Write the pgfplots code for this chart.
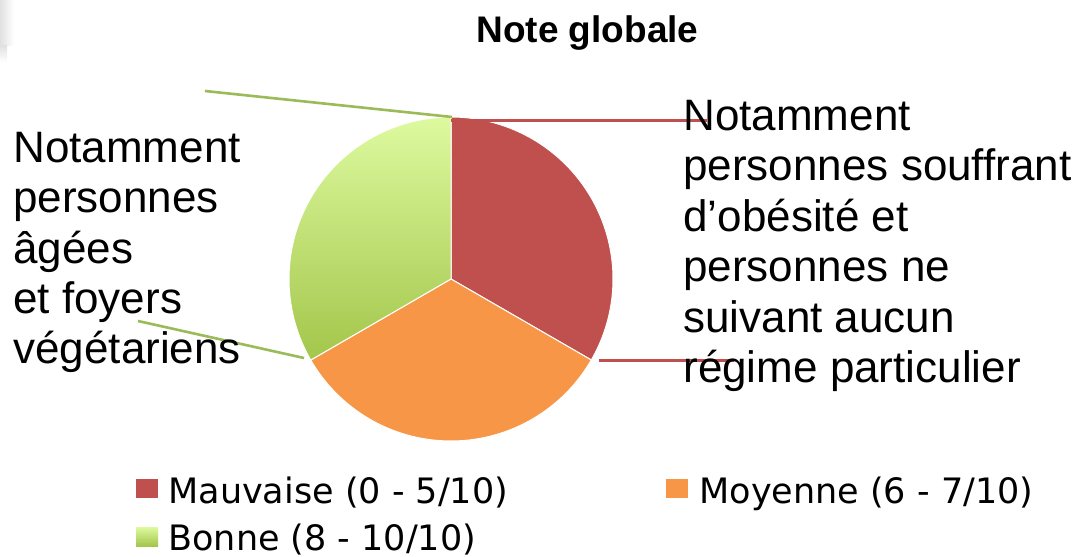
\documentclass[border=0pt]{standalone}
\usepackage{pgfplots}
\pgfplotsset{compat=1.18}
\usepackage{pgfplotstable}
\usepackage{fontspec}
\setmainfont{Liberation Sans}
\newfontfamily\legfont{DejaVu Sans}
\definecolor{cMauv}{HTML}{C0504D}
\definecolor{cMoy}{HTML}{F79646}
\definecolor{cBonTop}{HTML}{DDFA9F}
\definecolor{cBonBot}{HTML}{A3C64B}
\definecolor{cLeadG}{HTML}{9BBB59}
\pgfplotstableread{
cat share
Mauvaise 33.33
Moyenne 33.33
Bonne 33.34
}\pietable
\pgfplotstablegetelem{0}{share}\of\pietable \let\vA\pgfplotsretval
\pgfplotstablegetelem{1}{share}\of\pietable \let\vB\pgfplotsretval
\pgfplotstablegetelem{2}{share}\of\pietable \let\vC\pgfplotsretval
\pgfmathsetmacro{\tot}{\vA+\vB+\vC}
\pgfmathsetmacro{\aZero}{90}
\pgfmathsetmacro{\aOne}{90-360*\vA/\tot}
\pgfmathsetmacro{\aTwo}{\aOne-360*\vB/\tot}
\pgfmathsetmacro{\aThree}{\aTwo-360*\vC/\tot}
\def\cx{451}\def\cy{279}\def\R{162}
\newcommand{\lab}{\fontsize{22}{25}\selectfont}
\newcommand{\leg}{\legfont\fontsize{17.5}{20}\selectfont}
\begin{document}
\begin{tikzpicture}
\path[use as bounding box] (0,0) rectangle (541.5pt,278.5pt);
\begin{axis}[
  at={(0,0)}, anchor=south west,
  width=541.5pt, height=278.5pt, scale only axis,
  xmin=0, xmax=1083, ymin=0, ymax=557, y dir=reverse,
  hide axis, clip=false]
% faint shadow top-left
\shade[left color=black!12, right color=white] (axis cs:0,0) rectangle (axis cs:14,45);
\shade[top color=black!12, bottom color=white] (axis cs:0,45) rectangle (axis cs:7,62);
% pie slices
\addplot[fill=cMauv, draw=white, line width=0.5pt, domain=\aOne:\aZero, samples=80, variable=\t]
  ({\cx+\R*cos(\t)},{\cy-\R*sin(\t)}) -- (axis cs:\cx,\cy) -- cycle;
\addplot[fill=cMoy, draw=white, line width=0.5pt, domain=\aTwo:\aOne, samples=80, variable=\t]
  ({\cx+\R*cos(\t)},{\cy-\R*sin(\t)}) -- (axis cs:\cx,\cy) -- cycle;
\addplot[top color=cBonTop, bottom color=cBonBot, draw=white, line width=0.5pt, domain=\aThree:\aTwo, samples=80, variable=\t]
  ({\cx+\R*cos(\t)},{\cy-\R*sin(\t)}) -- (axis cs:\cx,\cy) -- cycle;
% leader lines
\addplot[cLeadG, line width=1.3pt] coordinates {(205,91) (452,117)};
\addplot[cLeadG, line width=1.3pt] coordinates {(138,321) (304,358)};
\addplot[cMauv, line width=1.3pt] coordinates {(451,120.5) (707,120.5)};
\addplot[cMauv, line width=1.3pt] coordinates {(599,360.5) (734,360.5)};
% title
\node[anchor=base, inner sep=0pt] at (axis cs:587.5,42) {\bfseries\fontsize{18.5}{22}\selectfont Note globale};
% left label
\node[anchor=base west, inner sep=0pt] at (axis cs:13,162) {\lab Notamment};
\node[anchor=base west, inner sep=0pt] at (axis cs:13,212) {\lab personnes};
\node[anchor=base west, inner sep=0pt] at (axis cs:13,263) {\lab âgées};
\node[anchor=base west, inner sep=0pt] at (axis cs:13,313) {\lab et foyers};
\node[anchor=base west, inner sep=0pt] at (axis cs:13,363) {\lab végétariens};
% right label
\node[anchor=base west, inner sep=0pt] at (axis cs:683,130) {\lab Notamment};
\node[anchor=base west, inner sep=0pt] at (axis cs:683,180.5) {\lab personnes souffrant};
\node[anchor=base west, inner sep=0pt] at (axis cs:683,231) {\lab d’obésité et};
\node[anchor=base west, inner sep=0pt] at (axis cs:683,281.5) {\lab personnes ne};
\node[anchor=base west, inner sep=0pt] at (axis cs:683,332) {\lab suivant aucun};
\node[anchor=base west, inner sep=0pt] at (axis cs:683,382.5) {\lab régime particulier};
% legend
\addplot[fill=cMauv, draw=none] coordinates {(136,479) (158,479) (158,498) (136,498)} -- cycle;
\addplot[fill=cMoy, draw=none] coordinates {(666,479) (688,479) (688,498) (666,498)} -- cycle;
\addplot[top color=cBonTop, bottom color=cBonBot, draw=none] coordinates {(136,527) (158,527) (158,546) (136,546)} -- cycle;
\node[anchor=base west, inner sep=0pt] at (axis cs:168,503) {\leg Mauvaise (0 - 5/10)};
\node[anchor=base west, inner sep=0pt] at (axis cs:699,503) {\leg Moyenne (6 - 7/10)};
\node[anchor=base west, inner sep=0pt] at (axis cs:168,550) {\leg Bonne (8 - 10/10)};
\end{axis}
\end{tikzpicture}
\end{document}
